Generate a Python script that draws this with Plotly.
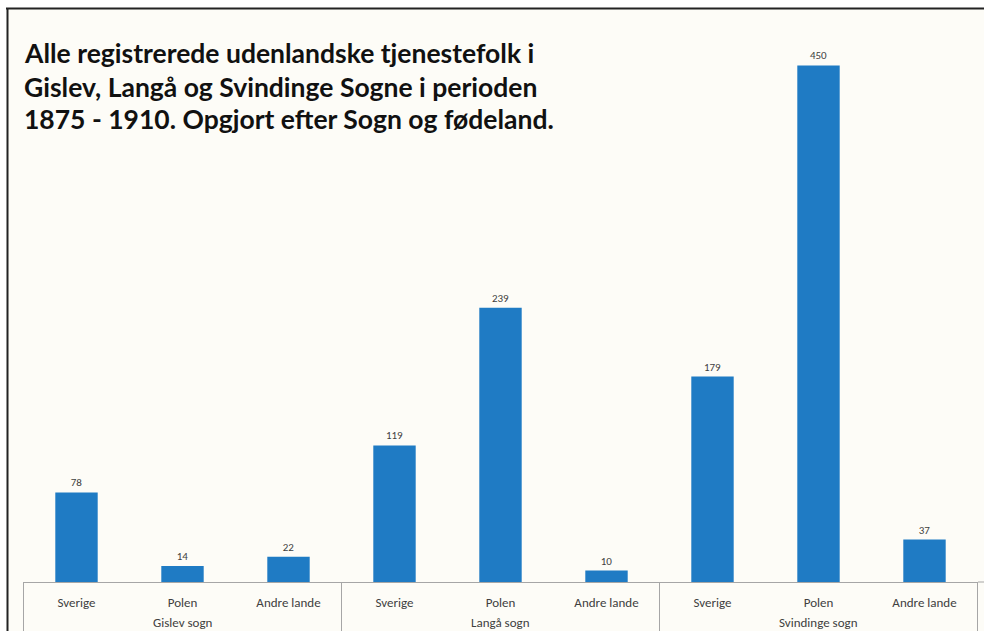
import plotly.graph_objects as go

parishes = ["Gislev sogn", "Langå sogn", "Svindinge sogn"]
countries = ["Sverige", "Polen", "Andre lande"]
values = [78, 14, 22, 119, 239, 10, 179, 450, 37]

title_lines = [
    "Alle registrerede udenlandske tjenestefolk i",
    "Gislev, Langå og Svindinge Sogne i perioden",
    "1875 - 1910. Opgjort efter Sogn og fødeland.",
]

# unique category keys, labelled with the country name
cat_keys = [f"{p}|{c}" for p in parishes for c in countries]
cat_text = [c for _ in parishes for c in countries]

BG = "#fdfcf7"
BAR = "#1f7bc4"
LINE = "#a6a6a6"
FONT = "Carlito, Liberation Sans, sans-serif"
W, H = 984, 631
L, R, T, B = 23, 6, 8, 49
PW, PH = W - L - R, H - T - B


def px_x(px):
    return (px - L) / PW


def px_y(py):
    return (H - B - py) / PH


fig = go.Figure(
    go.Bar(
        x=cat_keys,
        y=values,
        marker=dict(color=BAR, line=dict(width=0)),
        text=[str(v) for v in values],
        textposition="outside",
        textfont=dict(family=FONT, size=11, color="#404040"),
        cliponaxis=False,
    )
)

fig.update_layout(
    width=W,
    height=H,
    margin=dict(l=L, r=R, t=T, b=B, autoexpand=False),
    paper_bgcolor="white",
    plot_bgcolor=BG,
    showlegend=False,
    bargap=0.6,
    dragmode=False,
    xaxis=dict(
        type="category",
        categoryorder="array",
        categoryarray=cat_keys,
        tickvals=cat_keys,
        ticktext=cat_text,
        showline=True,
        linecolor=LINE,
        linewidth=1,
        showgrid=False,
        ticks="",
        ticklabelstandoff=8,
        tickfont=dict(family=FONT, size=13, color="#404040"),
    ),
    yaxis=dict(range=[0, 500], visible=False, showgrid=False),
    font=dict(family=FONT),
)

# off-white page background inside the frame
fig.add_shape(type="rect", xref="paper", yref="paper", layer="below",
              x0=px_x(7), x1=px_x(W + 4), y0=px_y(H + 4), y1=px_y(8),
              fillcolor=BG, line=dict(width=0))

# horizontal axis line continued to the right edge
fig.add_shape(type="line", xref="paper", yref="paper",
              x0=1, x1=px_x(W + 4), y0=0, y1=0, line=dict(color=LINE, width=1))

# group dividers and group labels
n = len(countries)
for gi, p in enumerate(parishes):
    fig.add_annotation(
        text=p, xref="x", yref="paper",
        x=cat_keys[gi * n + n // 2], y=px_y(622),
        xanchor="center", yanchor="middle", showarrow=False,
        font=dict(family=FONT, size=13, color="#404040"),
    )
for k in range(len(parishes) + 1):
    xb = k * n - 0.5
    fig.add_shape(type="line", xref="x", yref="paper",
                  x0=xb, x1=xb, y0=0, y1=px_y(H + 4),
                  line=dict(color=LINE, width=1))

# title, one annotation per line
for line, yc in zip(title_lines, [53, 86.5, 119]):
    fig.add_annotation(
        text="<b>" + line + "</b>",
        xref="paper", yref="paper",
        x=px_x(22), y=px_y(yc),
        xanchor="left", yanchor="middle",
        align="left",
        showarrow=False,
        font=dict(family="Lato, Open Sans, sans-serif", size=26.5, color="#111111"),
    )

# frame lines (top and left)
fig.add_shape(type="line", xref="paper", yref="paper",
              x0=px_x(6), x1=px_x(W + 4), y0=px_y(8.5), y1=px_y(8.5),
              line=dict(color="#222222", width=2))
fig.add_shape(type="line", xref="paper", yref="paper",
              x0=px_x(7.5), x1=px_x(7.5), y0=px_y(8), y1=px_y(H + 4),
              line=dict(color="#222222", width=2))

fig.write_html(
    "out.html",
    config={"displayModeBar": False, "staticPlot": True},
    post_script="document.body.style.margin='0';document.body.style.overflow='hidden';",
)
